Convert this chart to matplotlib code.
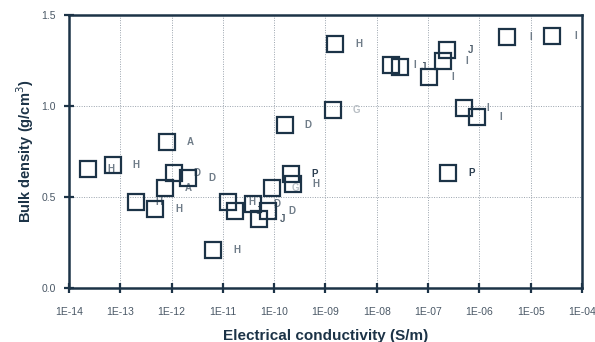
import matplotlib
matplotlib.use("Agg")
import matplotlib.pyplot as plt
from matplotlib.ticker import FixedLocator, NullLocator

# electrical conductivity (S/m) and bulk density (g/cm3), one entry per sample
conductivity = [2.3e-14, 7.1e-14, 8.1e-13, 1.1e-12, 2.07e-12, 7.4e-13, 2.0e-13, 4.7e-13,
                6.4e-12, 1.25e-11, 1.71e-11, 3.85e-11, 5.0e-11, 7.5e-11, 9.0e-11, 2.1e-10,
                2.3e-10, 1.6e-10, 1.4e-9, 1.53e-9, 1.9e-8, 2.85e-8, 1.05e-7, 2.35e-7,
                1.96e-7, 3.5e-6, 2.6e-5, 5.05e-7, 9.05e-7, 2.46e-7]
density = [0.652, 0.674, 0.80, 0.63, 0.603, 0.548, 0.471, 0.432,
           0.207, 0.471, 0.421, 0.46, 0.377, 0.421, 0.548, 0.625,
           0.57, 0.894, 0.976, 1.339, 1.224, 1.213, 1.158, 1.306,
           1.246, 1.377, 1.383, 0.987, 0.938, 0.63]
labels = ["H", "H", "A", "D", "D", "A", "H", "H",
          "H", "H", "J", "D", "J", "D", "G", "P",
          "H", "D", "G", "H", "I", "J", "I", "J",
          "I", "I", "I", "I", "I", "P"]

x_ticks = [1e-14, 1e-13, 1e-12, 1e-11, 1e-10, 1e-9, 1e-8, 1e-7, 1e-6, 1e-5, 1e-4]
x_ticklabels = ["1E-14", "1E-13", "1E-12", "1E-11", "1E-10", "1E-09",
                "1E-08", "1E-07", "1E-06", "1E-05", "1E-04"]
y_ticks = [0.0, 0.5, 1.0, 1.5]
y_ticklabels = ["0.0", "0.5", "1.0", "1.5"]

navy = "#1c3347"
label_colors = {"G": "#b8bec4", "P": "#2c3e50", "J": "#4f5e6c"}

plt.rcParams["font.family"] = ["Liberation Sans", "DejaVu Sans"]

fig = plt.figure(figsize=(5.95, 3.42), dpi=100)
ax = fig.add_axes([0.116, 0.158, 0.862, 0.798])

ax.plot(conductivity, density, linestyle="none", marker="s", markersize=12,
        markerfacecolor="none", markeredgecolor=navy, markeredgewidth=1.6, zorder=3)

for xv, yv, lab in zip(conductivity, density, labels):
    ax.annotate(lab, (xv, yv), xytext=(17, 0), textcoords="offset points",
                ha="center", va="center", fontsize=7, fontweight="bold",
                color=label_colors.get(lab, "#6f7c88"), zorder=2)

ax.set_xscale("log")
ax.set_xlim(1e-14, 1e-4)
ax.set_ylim(0, 1.5)
ax.xaxis.set_major_locator(FixedLocator(x_ticks))
ax.xaxis.set_minor_locator(NullLocator())
ax.set_xticklabels(x_ticklabels)
ax.set_yticks(y_ticks)
ax.set_yticklabels(y_ticklabels)

ax.grid(True, linestyle=(0, (1, 1.5)), color="#9aa3ad", linewidth=0.7)
ax.set_axisbelow(True)

for s in ax.spines.values():
    s.set_color(navy)
    s.set_linewidth(1.8)

ax.tick_params(axis="both", direction="inout", length=7, width=1.6, color=navy,
               labelsize=7.5, labelcolor="#4a5866")
ax.tick_params(axis="x", pad=10)
ax.tick_params(axis="y", pad=6)

ax.set_xlabel("Electrical conductivity (S/m)", fontsize=11, fontweight="bold",
              color=navy, labelpad=9)
ax.set_ylabel("Bulk density (g/cm$^3$)", fontsize=10.5, fontweight="bold",
              color=navy, labelpad=4)

fig.savefig("out.png", dpi=100)
